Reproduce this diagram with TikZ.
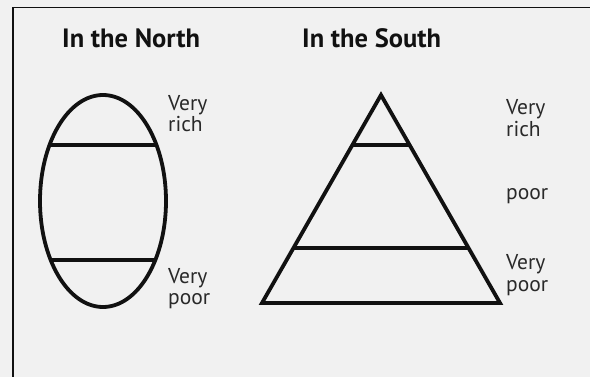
\documentclass[tikz,border=0pt]{standalone}
\usepackage{fontspec}
\setmainfont{PT Sans}
\usetikzlibrary{calc}
\definecolor{paper}{HTML}{F1F1F1}
\definecolor{ink}{HTML}{111111}
\tikzset{
  shapeline/.style={draw=ink, line width=3.8pt},
  title/.style={font=\fontsize{26.5}{28}\selectfont\bfseries, text=ink, anchor=base west, inner sep=0pt},
  lbl/.style={font=\fontsize{21.5}{24}\selectfont, text=ink!90, anchor=base west, inner sep=0pt},
}
\begin{document}
\begin{tikzpicture}[x=1pt,y=-1pt]
\useasboundingbox (0,0) rectangle (590,377);
\fill[paper] (0,0) rectangle (590,377);
\draw[ink, line width=1.6pt] (13,377) -- (13,7.5) -- (590,7.5);
% titles
\node[title] (tn) at (62,48) {In the North};
\node[title] (ts) at (302,48) {In the South};
% ellipse
\begin{scope}
\clip (103,201) ellipse [x radius=63, y radius=106];
\draw[shapeline] (30,145) -- (180,145);
\draw[shapeline] (30,260) -- (180,260);
\end{scope}
\draw[shapeline] (103,201) ellipse [x radius=63, y radius=106];
% triangle
\coordinate (A) at (381,95);
\coordinate (B) at (262,303);
\coordinate (C) at (500,303);
\draw[shapeline, line join=miter] (A) -- (B) -- (C) -- cycle;
\draw[shapeline] ($(A)!0.24!(B)$) -- ($(A)!0.24!(C)$);
\draw[shapeline] ($(A)!0.736!(B)$) -- ($(A)!0.736!(C)$);
% labels north
\node[lbl] (nv1) at (168,111) {Very};
\node[lbl] (nr1) at (168,132) {rich};
\node[lbl] (nv2) at (168,284) {Very};
\node[lbl] (np2) at (168,305) {poor};
% labels south
\node[lbl] (sv1) at (506,115) {Very};
\node[lbl] (sr1) at (506,137) {rich};
\node[lbl] (sp) at (506,200) {poor};
\node[lbl] (sv2) at (506,270) {Very};
\node[lbl] (sp2) at (506,291) {poor};
\end{tikzpicture}
\end{document}
